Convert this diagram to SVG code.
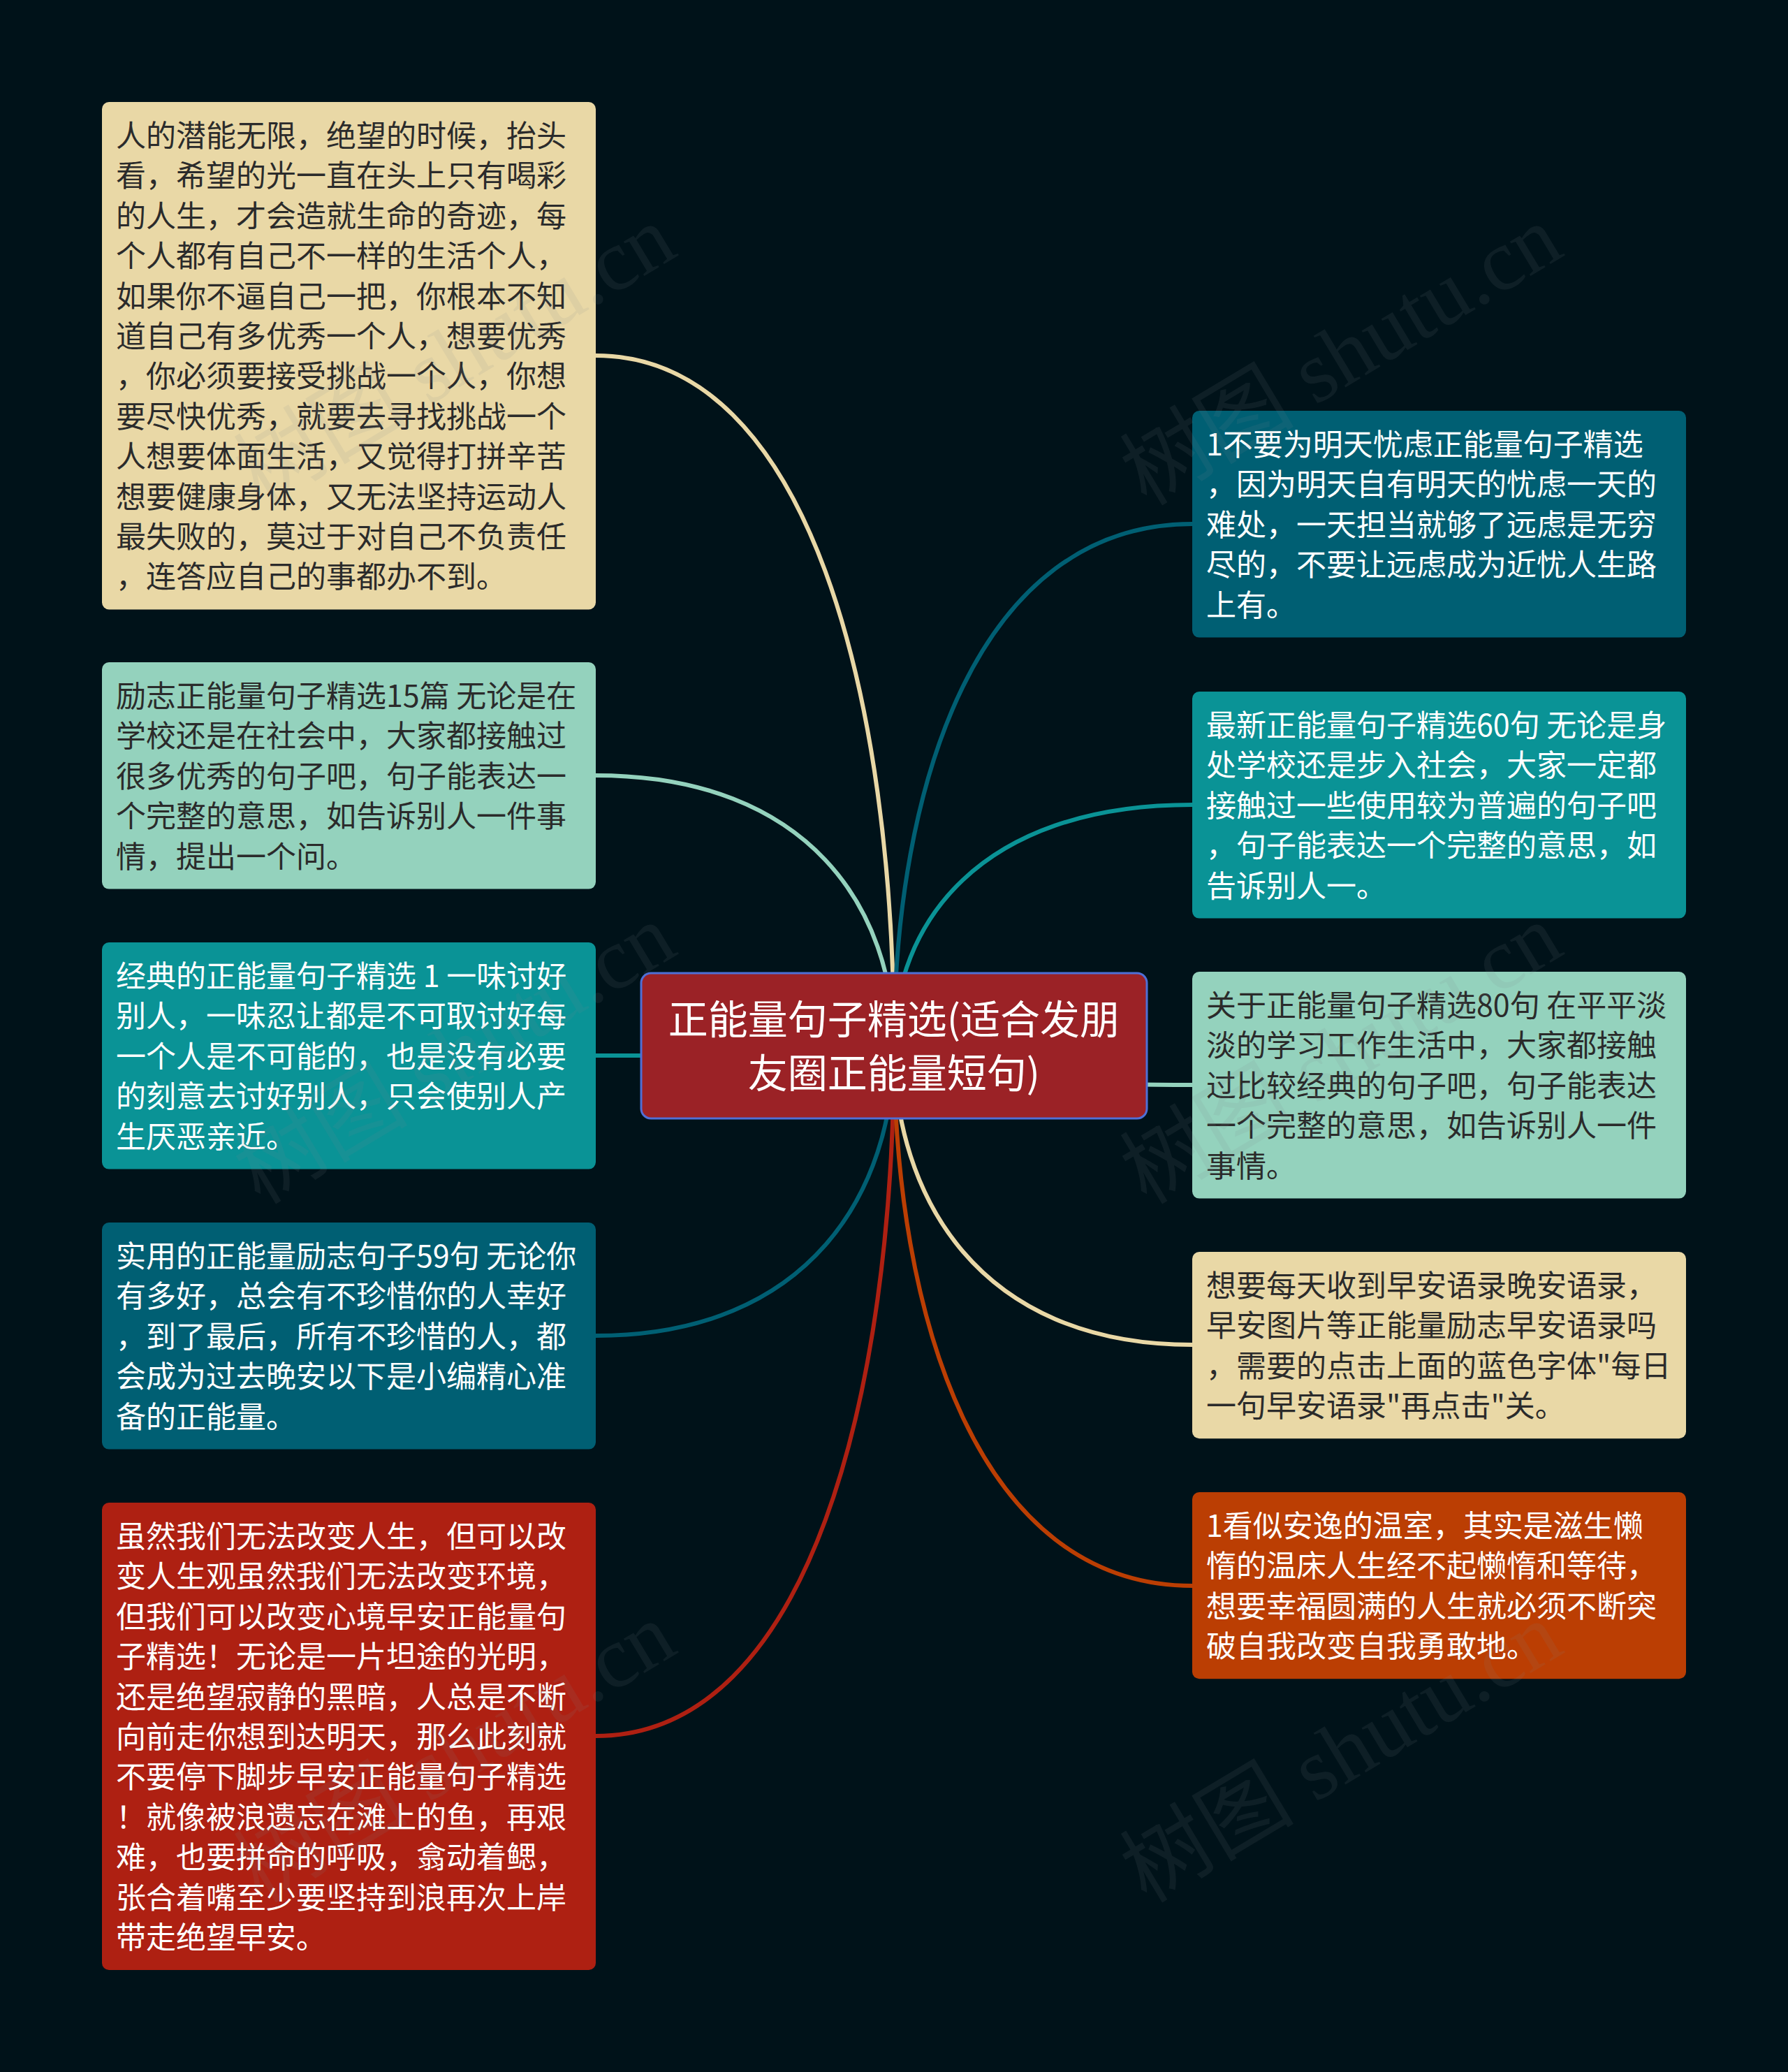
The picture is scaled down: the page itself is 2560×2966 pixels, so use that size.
<svg xmlns="http://www.w3.org/2000/svg" width="2560" height="2966" viewBox="0 0 2560 2966">
<style>
.t{font-family:"Noto Sans CJK SC","Liberation Sans",sans-serif;font-size:43px}
.dk{fill:#2b2b2b}
.wt{fill:#ffffff}
.c{fill:none;stroke-width:6;stroke-linecap:round}
.tan{fill:#e9d8a6}
.mint{fill:#94d2bd}
.teal{fill:#0a9396}
.dteal{fill:#005f73}
.red{fill:#ae2012}
.org{fill:#bb3e03}
.wm{font-family:"Liberation Serif","Noto Sans CJK SC",serif;font-size:125px;fill:#808a8f;opacity:0.11}
</style>
<rect width="2560" height="2966" fill="#001219"/>
<g id="connectors">
<path class="c" stroke="#e9d8a6" d="M1280,1497 C1280,1003 1160,509 853,509"/>
<path class="c" stroke="#94d2bd" d="M1280,1497 C1280,1303.5 1160,1110 853,1110"/>
<path class="c" stroke="#0a9396" d="M1280,1497 C1280,1504 1160,1511 853,1511"/>
<path class="c" stroke="#005f73" d="M1280,1497 C1280,1704.5 1160,1912 853,1912"/>
<path class="c" stroke="#ae2012" d="M1280,1497 C1280,1991 1160,2485 853,2485"/>
<path class="c" stroke="#005f73" d="M1280,1497 C1280,1123.5 1400,750 1707,750"/>
<path class="c" stroke="#0a9396" d="M1280,1497 C1280,1324.5 1400,1152 1707,1152"/>
<path class="c" stroke="#94d2bd" d="M1280,1497 C1280,1525 1400,1553 1707,1553"/>
<path class="c" stroke="#e9d8a6" d="M1280,1497 C1280,1711 1400,1925 1707,1925"/>
<path class="c" stroke="#bb3e03" d="M1280,1497 C1280,1883.5 1400,2270 1707,2270"/>
</g>
<g id="center">
<rect x="918" y="1393" width="724" height="208" rx="14" fill="#9b2226" stroke="#4f6fd6" stroke-width="3"/>
<text class="t wt" style="font-size:57px" text-anchor="middle" x="1280" y="1480">正能量句子精选(适合发朋</text>
<text class="t wt" style="font-size:57px" text-anchor="middle" x="1280" y="1557">友圈正能量短句)</text>
</g>
<g id="L1">
<rect class="tan" x="146" y="146" width="707" height="726.4" rx="10"/>
<text class="t dk" x="166" y="210"><tspan x="166">人的潜能无限，绝望的时候，抬头</tspan><tspan x="166" dy="57.4">看，希望的光一直在头上只有喝彩</tspan><tspan x="166" dy="57.4">的人生，才会造就生命的奇迹，每</tspan><tspan x="166" dy="57.4">个人都有自己不一样的生活个人，</tspan><tspan x="166" dy="57.4">如果你不逼自己一把，你根本不知</tspan><tspan x="166" dy="57.4">道自己有多优秀一个人，想要优秀</tspan><tspan x="166" dy="57.4">，你必须要接受挑战一个人，你想</tspan><tspan x="166" dy="57.4">要尽快优秀，就要去寻找挑战一个</tspan><tspan x="166" dy="57.4">人想要体面生活，又觉得打拼辛苦</tspan><tspan x="166" dy="57.4">想要健康身体，又无法坚持运动人</tspan><tspan x="166" dy="57.4">最失败的，莫过于对自己不负责任</tspan><tspan x="166" dy="57.4">，连答应自己的事都办不到。</tspan></text>
</g>
<g id="L2">
<rect class="mint" x="146" y="948" width="707" height="324.6" rx="10"/>
<text class="t dk" x="166" y="1012"><tspan x="166">励志正能量句子精选15篇 无论是在</tspan><tspan x="166" dy="57.4">学校还是在社会中，大家都接触过</tspan><tspan x="166" dy="57.4">很多优秀的句子吧，句子能表达一</tspan><tspan x="166" dy="57.4">个完整的意思，如告诉别人一件事</tspan><tspan x="166" dy="57.4">情，提出一个问。</tspan></text>
</g>
<g id="L3">
<rect class="teal" x="146" y="1349" width="707" height="324.6" rx="10"/>
<text class="t wt" x="166" y="1413"><tspan x="166">经典的正能量句子精选 1 一味讨好</tspan><tspan x="166" dy="57.4">别人，一味忍让都是不可取讨好每</tspan><tspan x="166" dy="57.4">一个人是不可能的，也是没有必要</tspan><tspan x="166" dy="57.4">的刻意去讨好别人，只会使别人产</tspan><tspan x="166" dy="57.4">生厌恶亲近。</tspan></text>
</g>
<g id="L4">
<rect class="dteal" x="146" y="1750" width="707" height="324.6" rx="10"/>
<text class="t wt" x="166" y="1814"><tspan x="166">实用的正能量励志句子59句 无论你</tspan><tspan x="166" dy="57.4">有多好，总会有不珍惜你的人幸好</tspan><tspan x="166" dy="57.4">，到了最后，所有不珍惜的人，都</tspan><tspan x="166" dy="57.4">会成为过去晚安以下是小编精心准</tspan><tspan x="166" dy="57.4">备的正能量。</tspan></text>
</g>
<g id="L5">
<rect class="red" x="146" y="2151" width="707" height="669" rx="10"/>
<text class="t wt" x="166" y="2215"><tspan x="166">虽然我们无法改变人生，但可以改</tspan><tspan x="166" dy="57.4">变人生观虽然我们无法改变环境，</tspan><tspan x="166" dy="57.4">但我们可以改变心境早安正能量句</tspan><tspan x="166" dy="57.4">子精选！无论是一片坦途的光明，</tspan><tspan x="166" dy="57.4">还是绝望寂静的黑暗，人总是不断</tspan><tspan x="166" dy="57.4">向前走你想到达明天，那么此刻就</tspan><tspan x="166" dy="57.4">不要停下脚步早安正能量句子精选</tspan><tspan x="166" dy="57.4">！就像被浪遗忘在滩上的鱼，再艰</tspan><tspan x="166" dy="57.4">难，也要拼命的呼吸，翕动着鳃，</tspan><tspan x="166" dy="57.4">张合着嘴至少要坚持到浪再次上岸</tspan><tspan x="166" dy="57.4">带走绝望早安。</tspan></text>
</g>
<g id="R1">
<rect class="dteal" x="1707" y="588" width="707" height="324.6" rx="10"/>
<text class="t wt" x="1727" y="652"><tspan x="1727">1不要为明天忧虑正能量句子精选</tspan><tspan x="1727" dy="57.4">，因为明天自有明天的忧虑一天的</tspan><tspan x="1727" dy="57.4">难处，一天担当就够了远虑是无穷</tspan><tspan x="1727" dy="57.4">尽的，不要让远虑成为近忧人生路</tspan><tspan x="1727" dy="57.4">上有。</tspan></text>
</g>
<g id="R2">
<rect class="teal" x="1707" y="990" width="707" height="324.6" rx="10"/>
<text class="t wt" x="1727" y="1054"><tspan x="1727">最新正能量句子精选60句 无论是身</tspan><tspan x="1727" dy="57.4">处学校还是步入社会，大家一定都</tspan><tspan x="1727" dy="57.4">接触过一些使用较为普遍的句子吧</tspan><tspan x="1727" dy="57.4">，句子能表达一个完整的意思，如</tspan><tspan x="1727" dy="57.4">告诉别人一。</tspan></text>
</g>
<g id="R3">
<rect class="mint" x="1707" y="1391" width="707" height="324.6" rx="10"/>
<text class="t dk" x="1727" y="1455"><tspan x="1727">关于正能量句子精选80句 在平平淡</tspan><tspan x="1727" dy="57.4">淡的学习工作生活中，大家都接触</tspan><tspan x="1727" dy="57.4">过比较经典的句子吧，句子能表达</tspan><tspan x="1727" dy="57.4">一个完整的意思，如告诉别人一件</tspan><tspan x="1727" dy="57.4">事情。</tspan></text>
</g>
<g id="R4">
<rect class="tan" x="1707" y="1792" width="707" height="267.2" rx="10"/>
<text class="t dk" x="1727" y="1856"><tspan x="1727">想要每天收到早安语录晚安语录，</tspan><tspan x="1727" dy="57.4">早安图片等正能量励志早安语录吗</tspan><tspan x="1727" dy="57.4">，需要的点击上面的蓝色字体"每日</tspan><tspan x="1727" dy="57.4">一句早安语录"再点击"关。</tspan></text>
</g>
<g id="R5">
<rect class="org" x="1707" y="2136" width="707" height="267.2" rx="10"/>
<text class="t wt" x="1727" y="2200"><tspan x="1727">1看似安逸的温室，其实是滋生懒</tspan><tspan x="1727" dy="57.4">惰的温床人生经不起懒惰和等待，</tspan><tspan x="1727" dy="57.4">想要幸福圆满的人生就必须不断突</tspan><tspan x="1727" dy="57.4">破自我改变自我勇敢地。</tspan></text>
</g>
<g id="watermarks">
<text class="wm" text-anchor="middle" x="655" y="550" transform="rotate(-31 655 515)">树图 shutu.cn</text>
<text class="wm" text-anchor="middle" x="1924" y="550" transform="rotate(-31 1924 515)">树图 shutu.cn</text>
<text class="wm" text-anchor="middle" x="655" y="1550" transform="rotate(-31 655 1515)">树图 shutu.cn</text>
<text class="wm" text-anchor="middle" x="1924" y="1550" transform="rotate(-31 1924 1515)">树图 shutu.cn</text>
<text class="wm" text-anchor="middle" x="655" y="2550" transform="rotate(-31 655 2515)">树图 shutu.cn</text>
<text class="wm" text-anchor="middle" x="1924" y="2550" transform="rotate(-31 1924 2515)">树图 shutu.cn</text>
</g>
</svg>
